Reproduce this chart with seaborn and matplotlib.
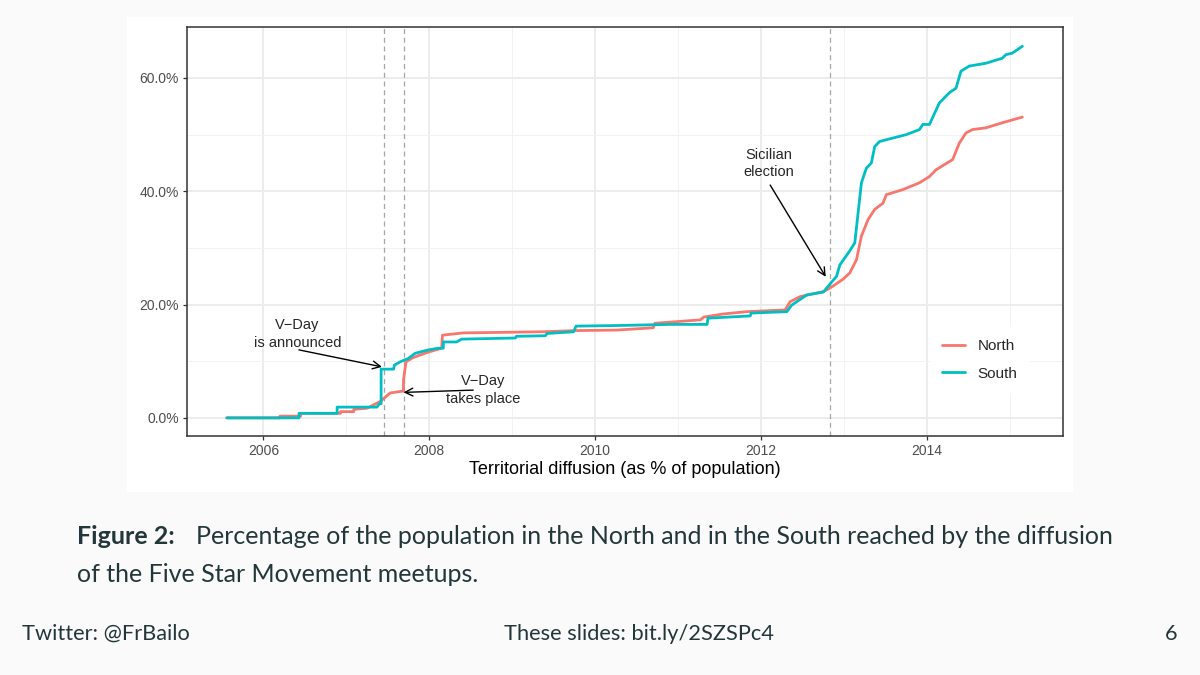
import numpy as np
import pandas as pd
import seaborn as sns
import matplotlib.pyplot as plt
from matplotlib.patches import Rectangle
from matplotlib.ticker import FuncFormatter, MultipleLocator

#####################################################
## Data (decimal year, % of population reached)
north_year = [2005.56, 2006.20, 2006.20, 2006.45, 2006.45, 2006.93, 2006.93, 2007.09, 2007.09,
              2007.25, 2007.33, 2007.41, 2007.45, 2007.53, 2007.67, 2007.69, 2007.69, 2007.72,
              2007.80, 2007.89, 2008.01, 2008.15, 2008.16, 2008.41, 2009.37, 2009.74, 2010.26,
              2010.70, 2010.72, 2011.27, 2011.31, 2011.55, 2011.83, 2012.29, 2012.35, 2012.47,
              2012.75, 2012.83, 2012.99, 2013.07, 2013.15, 2013.21, 2013.29, 2013.37, 2013.47,
              2013.51, 2013.71, 2013.91, 2014.03, 2014.11, 2014.31, 2014.39, 2014.47, 2014.55,
              2014.71, 2014.91, 2015.15]
north_pct = [0.0, 0.0, 0.3, 0.3, 0.8, 0.8, 1.1, 1.1, 1.5,
             1.7, 2.3, 2.9, 3.4, 4.4, 4.7, 4.7, 6.7, 9.9,
             10.6, 11.1, 11.7, 12.3, 14.6, 15.0, 15.2, 15.4, 15.5,
             15.9, 16.7, 17.3, 17.8, 18.35, 18.75, 19.05, 20.5, 21.4,
             22.3, 22.9, 24.5, 25.6, 27.9, 32.1, 35.0, 36.8, 37.9,
             39.4, 40.3, 41.5, 42.6, 43.8, 45.6, 48.5, 50.3, 50.9,
             51.2, 52.1, 53.1]

south_year = [2005.56, 2006.43, 2006.43, 2006.89, 2006.89, 2007.37, 2007.40, 2007.42, 2007.42,
              2007.57, 2007.58, 2007.65, 2007.75, 2007.83, 2007.99, 2008.11, 2008.17, 2008.17,
              2008.33, 2008.39, 2009.04, 2009.05, 2009.40, 2009.42, 2009.74, 2009.77, 2010.26,
              2010.90, 2011.35, 2011.36, 2011.87, 2011.88, 2012.31, 2012.37, 2012.55, 2012.75,
              2012.83, 2012.91, 2012.95, 2013.07, 2013.13, 2013.17, 2013.21, 2013.27, 2013.33,
              2013.37, 2013.43, 2013.59, 2013.75, 2013.91, 2013.95, 2014.03, 2014.15, 2014.27,
              2014.35, 2014.41, 2014.51, 2014.71, 2014.91, 2014.95, 2015.03, 2015.15]
south_pct = [0.0, 0.0, 0.8, 0.8, 1.9, 1.9, 2.5, 2.5, 8.6,
             8.6, 9.3, 9.9, 10.5, 11.4, 12.0, 12.3, 12.3, 13.4,
             13.4, 13.9, 14.1, 14.4, 14.5, 14.9, 15.2, 16.2, 16.3,
             16.5, 16.5, 17.6, 18.0, 18.5, 18.75, 19.9, 21.7, 22.2,
             23.6, 25.0, 27.0, 29.5, 30.9, 36.2, 41.5, 44.1, 45.0,
             47.9, 48.8, 49.4, 50.0, 50.9, 51.8, 51.8, 55.6, 57.4,
             58.2, 61.2, 62.1, 62.6, 63.5, 64.1, 64.4, 65.6]

event_years = [2007.46, 2007.69, 2012.83]  # V-Day announced, V-Day, Sicilian election
palette = {'North': '#F8766D', 'South': '#00BFC4'}
#####################################################

df = pd.concat([
    pd.DataFrame({'year': north_year, 'pct': north_pct, 'region': 'North'}),
    pd.DataFrame({'year': south_year, 'pct': south_pct, 'region': 'South'}),
], ignore_index=True)

sns.set_style('white')
plt.rcParams['font.family'] = ['Liberation Sans', 'DejaVu Sans']

fig = plt.figure(figsize=(12, 6.75), dpi=100)
fig.patch.set_facecolor('#fafafa')
# white box of the embedded R figure
fig.patches.append(Rectangle((127/1200, 1-492/675), 946/1200, 475/675,
                             transform=fig.transFigure, facecolor='white',
                             edgecolor='none', zorder=-5))

ax = fig.add_axes([187/1200, 1-436/675, 876/1200, 409/675])
ax.set_zorder(1)
ax.set_facecolor('white')

sns.lineplot(data=df, x='year', y='pct', hue='region', palette=palette,
             estimator=None, sort=False, lw=2.0, ax=ax, zorder=3)

for ev in event_years:
    ax.axvline(ev, color='#a6a6a6', lw=0.9, ls=(0, (4, 3)), zorder=2)

ax.set_xlim(2005.08, 2015.64)
ax.set_ylim(-3.2, 69.0)
ax.xaxis.set_major_locator(MultipleLocator(2))
ax.xaxis.set_minor_locator(MultipleLocator(1))
ax.yaxis.set_major_locator(MultipleLocator(20))
ax.yaxis.set_minor_locator(MultipleLocator(10))
ax.yaxis.set_major_formatter(FuncFormatter(lambda v, p: f'{v:.1f}%'))
ax.xaxis.set_major_formatter(FuncFormatter(lambda v, p: f'{int(v)}'))
ax.grid(which='major', color='#ebebeb', lw=1.3, zorder=0)
ax.grid(which='minor', color='#f2f2f2', lw=0.7, zorder=0)
ax.set_axisbelow(True)
for s in ax.spines.values():
    s.set_color('#333333')
    s.set_linewidth(1.1)
ax.tick_params(which='major', direction='out', length=3, width=0.9, color='#333333',
               labelsize=10, labelcolor='#4d4d4d', pad=3)
ax.tick_params(which='minor', length=0)
ax.tick_params(axis='x', bottom=True)
ax.tick_params(axis='y', left=True)
ax.set_xlabel('Territorial diffusion (as % of population)', fontsize=13, color='black', labelpad=2)
ax.set_ylabel('')

# annotations
arr = dict(arrowstyle='->', color='black', lw=1.0, mutation_scale=14, shrinkA=0, shrinkB=0)
ax.text(2006.41, 14.8, 'V\u2212Day\nis announced', ha='center', va='center', fontsize=10.5,
        linespacing=1.35, zorder=5)
ax.annotate('', xy=(2007.43, 9.0), xytext=(2006.43, 12.0), arrowprops=arr, zorder=5)
ax.text(2008.65, 4.9, 'V\u2212Day\ntakes place', ha='center', va='center', fontsize=10.5,
        linespacing=1.35, zorder=5)
ax.annotate('', xy=(2007.69, 4.5), xytext=(2008.53, 4.9), arrowprops=arr, zorder=5)
ax.text(2012.09, 44.9, 'Sicilian\nelection', ha='center', va='center', fontsize=10.5,
        linespacing=1.35, zorder=5)
ax.annotate('', xy=(2012.78, 24.9), xytext=(2012.11, 41.1), arrowprops=arr, zorder=5)

leg = ax.legend(title=None, loc='center', bbox_to_anchor=(0.905, 0.186), fontsize=11,
                frameon=True, handlelength=1.5, handletextpad=0.8, labelspacing=0.9,
                borderpad=0.8)
leg.get_frame().set_facecolor('white')
leg.get_frame().set_edgecolor('none')
leg.get_frame().set_alpha(1)
for line in leg.get_lines():
    line.set_linewidth(2.0)

# slide caption and footer
cap_col = '#23373b'
cap_font = ['Lato', 'DejaVu Sans']
fig.text(77/1200, 1-537/675, 'Figure 2:', fontsize=18, fontweight='bold', color=cap_col,
         family=cap_font, va='center')
fig.text(196/1200, 1-537/675,
         'Percentage of the population in the North and in the South reached by the diffusion',
         fontsize=18, color=cap_col, family=cap_font, va='center')
fig.text(77/1200, 1-575/675, 'of the Five Star Movement meetups.', fontsize=18, color=cap_col,
         family=cap_font, va='center')
fig.text(22/1200, 1-634/675, 'Twitter: @FrBailo', fontsize=15.7, color=cap_col,
         family=cap_font, va='center')
fig.text(504/1200, 1-634/675, 'These slides: bit.ly/2SZSPc4', fontsize=15.7, color=cap_col,
         family=cap_font, va='center')
fig.text(1178/1200, 1-634/675, '6', fontsize=15.7, color=cap_col, family=cap_font,
         va='center', ha='right')

plt.savefig('out.png', dpi=100, facecolor=fig.get_facecolor())
